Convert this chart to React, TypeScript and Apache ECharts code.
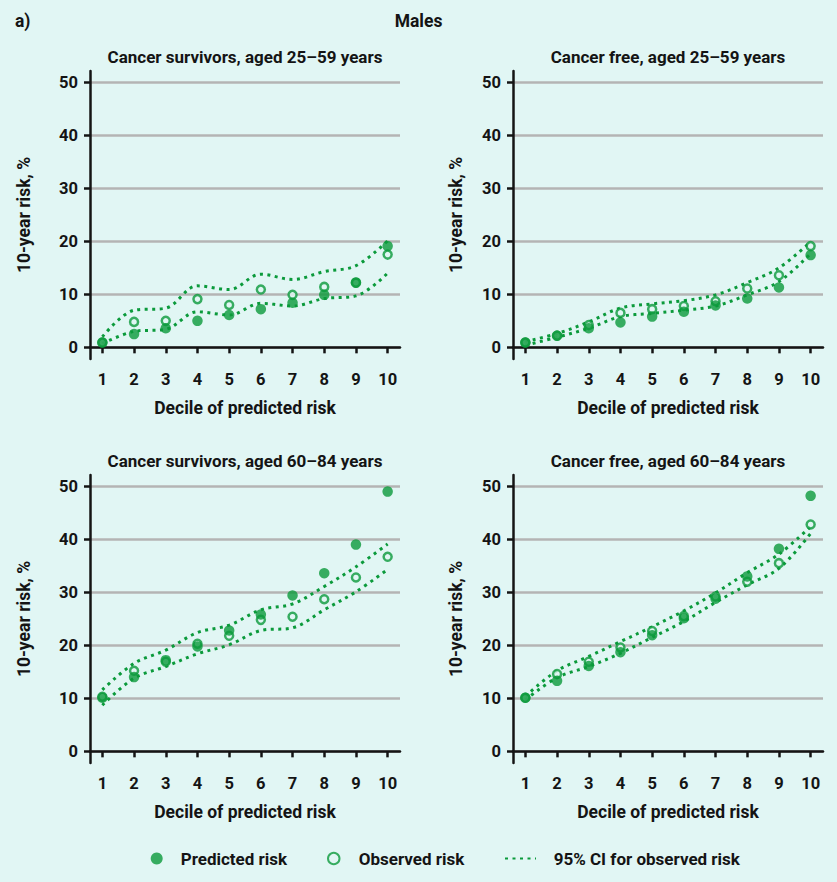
import React, { useEffect, useRef } from "react";
import * as echarts from "echarts";

const deciles = [1, 2, 3, 4, 5, 6, 7, 8, 9, 10];
const yTicks = [0, 10, 20, 30, 40, 50];

const panelTitles = [
  "Cancer survivors, aged 25–59 years",
  "Cancer free, aged 25–59 years",
  "Cancer survivors, aged 60–84 years",
  "Cancer free, aged 60–84 years",
];

// Cancer survivors, 25–59
const surv2559Pred = [0.9, 2.5, 3.6, 5.0, 6.1, 7.2, 8.4, 9.9, 12.2, 19.1];
const surv2559Obs = [0.9, 4.8, 5.0, 9.1, 8.0, 10.9, 9.9, 11.4, 12.2, 17.5];
const surv2559Upper = [2.0, 7.0, 7.4, 11.6, 10.9, 13.8, 12.8, 14.3, 15.4, 20.1];
const surv2559Lower = [0.7, 3.0, 3.4, 6.7, 6.1, 8.3, 7.8, 9.2, 9.7, 14.0];

// Cancer free, 25–59
const free2559Pred = [0.9, 2.2, 3.6, 4.7, 5.8, 6.7, 7.9, 9.2, 11.3, 17.4];
const free2559Obs = [0.9, 2.2, 4.2, 6.5, 7.2, 7.8, 8.7, 11.1, 13.6, 19.1];
const free2559Upper = [1.1, 2.6, 4.8, 7.4, 8.2, 8.8, 9.9, 12.2, 15.0, 19.9];
const free2559Lower = [0.4, 1.9, 3.6, 5.8, 6.4, 7.0, 7.8, 9.9, 12.4, 17.7];

// Cancer survivors, 60–84
const surv6084Pred = [10.1, 14.0, 17.2, 19.8, 22.8, 25.8, 29.4, 33.6, 39.0, 49.0];
const surv6084Obs = [10.3, 15.2, 16.9, 20.3, 21.8, 24.8, 25.4, 28.7, 32.8, 36.7];
const surv6084Upper = [11.6, 16.6, 19.1, 22.4, 23.8, 26.7, 27.8, 31.1, 34.8, 39.1];
const surv6084Lower = [8.7, 13.8, 16.0, 18.4, 20.1, 22.8, 23.3, 26.7, 30.1, 34.3];

// Cancer free, 60–84
const free6084Pred = [10.1, 13.3, 16.1, 18.7, 21.9, 25.1, 28.8, 33.0, 38.2, 48.2];
const free6084Obs = [10.1, 14.6, 16.9, 19.6, 22.7, 25.5, 29.2, 32.0, 35.5, 42.8];
const free6084Upper = [10.4, 15.2, 17.9, 20.7, 23.5, 26.5, 29.9, 33.7, 37.2, 42.4];
const free6084Lower = [9.7, 13.9, 16.0, 18.5, 21.5, 24.5, 28.1, 31.4, 34.5, 41.1];

const panels = [
  { pred: surv2559Pred, obs: surv2559Obs, upper: surv2559Upper, lower: surv2559Lower },
  { pred: free2559Pred, obs: free2559Obs, upper: free2559Upper, lower: free2559Lower },
  { pred: surv6084Pred, obs: surv6084Obs, upper: surv6084Upper, lower: surv6084Lower },
  { pred: free6084Pred, obs: free6084Obs, upper: free6084Upper, lower: free6084Lower },
];

const NAME_PRED = "Predicted risk";
const NAME_OBS = "Observed risk";
const NAME_CI = "95% CI for observed risk";

const BG = "#e1f6f4";
const GREEN = "#0b9a3b";
const INK = "#141414";
const FONT = "Roboto, 'DejaVu Sans', sans-serif";

export default function App() {
  const ref = useRef<HTMLDivElement>(null);
  useEffect(() => {
    if (!ref.current) return;
    const chart = echarts.init(ref.current, null, { renderer: "svg" });

    const gridPos = [
      { left: 90, top: 71 },
      { left: 513, top: 71 },
      { left: 90, top: 475 },
      { left: 513, top: 475 },
    ];
    const grids = gridPos.map((g) => ({ left: g.left, top: g.top, width: 310, height: 288 }));

    const nameStyle = { fontFamily: FONT, fontWeight: "bold", fontSize: 17.5, color: INK };
    const tickLabelStyle = { fontFamily: FONT, fontWeight: "bold", fontSize: 16.5, color: INK };

    const xAxes = gridPos.map((_, i) => ({
      type: "value",
      gridIndex: i,
      min: 0.61,
      max: 10.39,
      name: "Decile of predicted risk",
      nameLocation: "middle",
      nameGap: 40,
      nameTextStyle: nameStyle,
      axisLine: { show: true, lineStyle: { color: INK, width: 2.5 } },
      axisTick: { show: true, customValues: deciles, length: 6, lineStyle: { color: INK, width: 2.5 } },
      axisLabel: { customValues: deciles, margin: 12, ...tickLabelStyle },
      splitLine: { show: false },
    }));

    const yAxes = gridPos.map((_, i) => ({
      type: "value",
      gridIndex: i,
      min: -2.2,
      max: 52.13,
      name: "10-year risk, %",
      nameLocation: "middle",
      nameGap: i % 2 === 0 ? 57 : 48,
      nameTextStyle: nameStyle,
      axisLine: { show: true, lineStyle: { color: INK, width: 2.5 } },
      axisTick: { show: true, customValues: yTicks, length: 6, lineStyle: { color: INK, width: 2.5 } },
      axisLabel: { customValues: yTicks, margin: 12, ...tickLabelStyle },
      splitLine: { show: true, lineStyle: { color: "#b4b4b4", width: 2.5 } },
    }));

    const toPts = (arr: number[]) => deciles.map((d, i) => [d, arr[i]]);
    const ciStyle = { color: GREEN, width: 3, type: [3, 4.5] };

    const series: any[] = [];
    panels.forEach((p, i) => {
      [p.upper, p.lower].forEach((arr) => {
        series.push({
          type: "line",
          name: NAME_CI,
          xAxisIndex: i,
          yAxisIndex: i,
          data: toPts(arr),
          smooth: 0.35,
          symbol: "none",
          lineStyle: ciStyle,
          itemStyle: { color: GREEN },
          z: 2,
        });
      });
      series.push({
        type: "scatter",
        name: NAME_OBS,
        xAxisIndex: i,
        yAxisIndex: i,
        data: toPts(p.obs),
        symbol: "circle",
        symbolSize: 8,
        itemStyle: { color: BG, borderColor: GREEN, borderWidth: 2.5 },
        z: 3,
      });
      series.push({
        type: "scatter",
        name: NAME_PRED,
        xAxisIndex: i,
        yAxisIndex: i,
        data: toPts(p.pred),
        symbol: "circle",
        symbolSize: 10.5,
        itemStyle: { color: GREEN },
        z: 4,
      });
    });

    const legendText = { fontFamily: FONT, fontWeight: "bold", fontSize: 17, color: INK };
    const titleCenters = [
      { x: 245, y: 48 },
      { x: 668, y: 48 },
      { x: 245, y: 452 },
      { x: 668, y: 452 },
    ];

    chart.setOption({
      animation: false,
      backgroundColor: BG,
      title: [
        ...panelTitles.map((t, i) => ({
          text: t,
          left: titleCenters[i].x,
          top: titleCenters[i].y,
          textAlign: "center",
          padding: 0,
          textStyle: { fontFamily: FONT, fontWeight: "bold", fontSize: 17, color: INK },
        })),
        {
          text: "Males",
          left: 418.5,
          top: 12,
          textAlign: "center",
          padding: 0,
          textStyle: { fontFamily: FONT, fontWeight: "bold", fontSize: 17.5, color: INK },
        },
        {
          text: "a)",
          left: 15,
          top: 12,
          padding: 0,
          textStyle: { fontFamily: FONT, fontWeight: "bold", fontSize: 17.5, color: INK },
        },
      ],
      legend: [
        {
          data: [NAME_PRED],
          left: 150.7,
          top: 850,
          itemWidth: 38,
          itemHeight: 12,
          selectedMode: false,
          padding: 0,
          textStyle: legendText,
        },
        {
          data: [NAME_OBS],
          left: 327,
          top: 850,
          itemWidth: 40,
          itemHeight: 11.5,
          selectedMode: false,
          padding: 0,
          textStyle: legendText,
        },
        {
          data: [NAME_CI],
          left: 504,
          top: 850,
          itemWidth: 31,
          itemHeight: 12,
          selectedMode: false,
          padding: 0,
          itemStyle: { opacity: 0 },
          textStyle: { ...legendText, padding: [0, 0, 0, 12.7] },
        },
      ],
      grid: grids,
      xAxis: xAxes,
      yAxis: yAxes,
      series,
    });

    return () => chart.dispose();
  }, []);

  return (
    <div
      ref={ref}
      style={{ position: "fixed", left: 0, top: 0, width: 837, height: 882, background: BG }}
    />
  );
}
